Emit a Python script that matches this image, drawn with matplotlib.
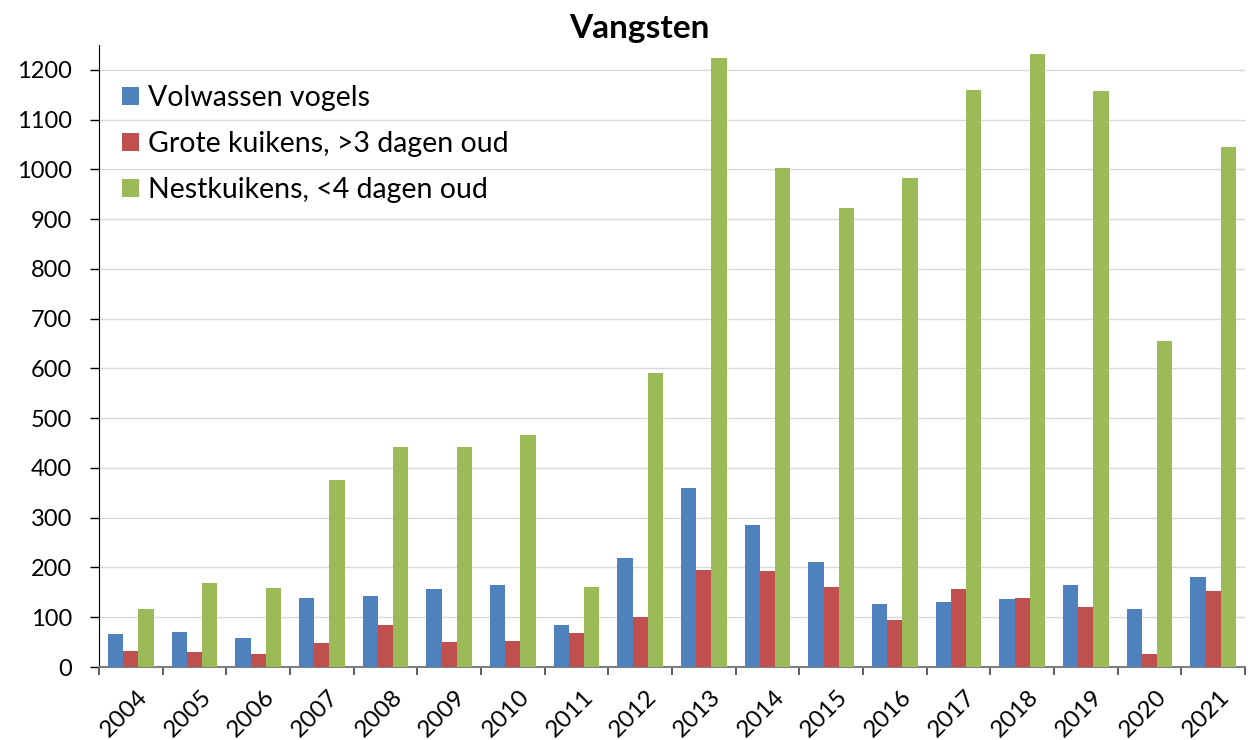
import numpy as np
import matplotlib.pyplot as plt
import matplotlib.transforms as mtransforms
from matplotlib.ticker import FixedLocator, NullFormatter

plt.rcParams['font.family'] = ['Lato', 'DejaVu Sans']

years = ['2004', '2005', '2006', '2007', '2008', '2009', '2010', '2011', '2012',
         '2013', '2014', '2015', '2016', '2017', '2018', '2019', '2020', '2021']
volwassen = [66, 71, 59, 138, 142, 156, 164, 85, 219, 360, 285, 211, 126, 130, 136, 164, 117, 180]
grote_kuikens = [32, 30, 27, 49, 85, 51, 53, 68, 100, 195, 193, 160, 95, 156, 138, 121, 27, 152]
nestkuikens = [117, 168, 158, 376, 442, 442, 466, 160, 591, 1223, 1003, 923, 982, 1160, 1232, 1158, 656, 1046]

labels = ['Volwassen vogels', 'Grote kuikens, >3 dagen oud', 'Nestkuikens, <4 dagen oud']
colors = ['#4F81BD', '#C0504D', '#9BBB59']

W, H = 1248, 740
fig = plt.figure(figsize=(W / 100, H / 100), dpi=100)
# plot area in pixels: x 99..1245, y 45..667
ax = fig.add_axes([99 / W, 1 - 667 / H, (1245 - 99) / W, (667 - 45) / H])

x = np.arange(len(years))
w = 0.24
for i, (vals, lab, col) in enumerate(zip([volwassen, grote_kuikens, nestkuikens], labels, colors)):
    ax.bar(x + (i - 1) * w, vals, width=w, color=col, label=lab, zorder=3)

ax.set_xlim(-0.5, len(years) - 0.5)
ax.set_ylim(0, 1250)
ax.set_yticks(np.arange(0, 1201, 100))
ax.tick_params(axis='y', labelsize=17, length=6.5, width=1, direction='out', pad=13)
ax.yaxis.grid(True, color='#D9D9D9', linewidth=1, zorder=0)

# ticks at category boundaries, labels at centers
ax.xaxis.set_major_locator(FixedLocator(np.arange(-0.5, len(years), 1)))
ax.xaxis.set_major_formatter(NullFormatter())
ax.xaxis.set_minor_locator(FixedLocator(x))
ax.set_xticklabels(years, minor=True, rotation=45, ha='right', va='top',
                   rotation_mode='anchor', fontsize=17.5)
ax.tick_params(axis='x', which='major', length=6, width=1.2, color='#404040')
ax.tick_params(axis='x', which='minor', length=0, pad=14)
shift = mtransforms.ScaledTranslation(0.06, 0, fig.dpi_scale_trans)
for t in ax.get_xticklabels(minor=True):
    t.set_transform(t.get_transform() + shift)

for s in ['top', 'right']:
    ax.spines[s].set_visible(False)
ax.spines['left'].set_color('black')
ax.spines['bottom'].set_color('#7F7F7F')
ax.spines['bottom'].set_linewidth(1.5)

fig.text(639 / W, 1 - 38 / H, 'Vangsten', fontsize=24, fontweight='bold',
         ha='center', va='baseline')

ax.legend(loc='upper left', bbox_to_anchor=(0.0203, 0.936), frameon=False, fontsize=20.5,
          borderpad=0, borderaxespad=0,
          handlelength=0.6, handleheight=0.6, handletextpad=0.3, labelspacing=0.7)

fig.savefig('out.png', dpi=100)
